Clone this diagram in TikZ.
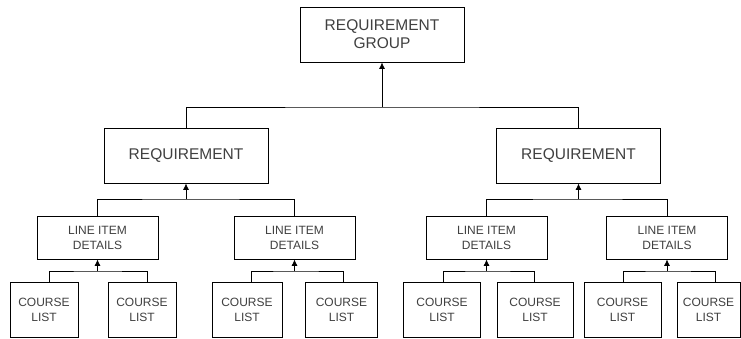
\documentclass[tikz,border=0pt]{standalone}
\usepackage{fontspec}
\setmainfont{Liberation Sans}
\usetikzlibrary{arrows.meta,calc}
\begin{document}
\begin{tikzpicture}[x=1pt,y=-1pt,
  box/.style={draw=black,line width=0.8pt,fill=white,inner sep=0pt,align=center,text=black!75},
  bigbox/.style={box,minimum width=164pt,minimum height=55pt,font=\fontsize{15.5}{18}\selectfont},
  lidbox/.style={box,minimum width=121pt,minimum height=43pt,font=\fontsize{12}{15}\selectfont},
  clbox/.style={box,minimum height=55pt,font=\fontsize{12}{15}\selectfont},
  link/.style={line width=0.8pt,draw=black},
  arr/.style={link,-{Latex[length=6.5pt,width=6pt]}}]
\useasboundingbox (0,0) rectangle (741,339);
% top
\node[bigbox] (grp) at (382,34.5) {REQUIREMENT\\GROUP};
\node[bigbox] (reqL) at (186,155.5) {REQUIREMENT};
\node[bigbox] (reqR) at (578.5,155.5) {REQUIREMENT};
% line item details
\node[lidbox] (lid1) at (97.5,237.5) {LINE ITEM\\DETAILS};
\node[lidbox] (lid2) at (294.5,237.5) {LINE ITEM\\DETAILS};
\node[lidbox] (lid3) at (486.5,237.5) {LINE ITEM\\DETAILS};
\node[lidbox] (lid4) at (667,237.5) {LINE ITEM\\DETAILS};
% course lists
\node[clbox,minimum width=68pt] (cl1) at (44,309.5) {COURSE\\LIST};
\node[clbox,minimum width=68pt] (cl2) at (142,309.5) {COURSE\\LIST};
\node[clbox,minimum width=70pt] (cl3) at (247,309.5) {COURSE\\LIST};
\node[clbox,minimum width=72pt] (cl4) at (341.5,309.5) {COURSE\\LIST};
\node[clbox,minimum width=77pt] (cl5) at (442,309.5) {COURSE\\LIST};
\node[clbox,minimum width=76pt] (cl6) at (535,309.5) {COURSE\\LIST};
\node[clbox,minimum width=77pt] (cl7) at (622.5,309.5) {COURSE\\LIST};
\node[clbox,minimum width=63pt] (cl8) at (708.5,309.5) {COURSE\\LIST};
% junction coordinates
\coordinate (j0) at (382,107);
\coordinate (jL) at (186,199);
\coordinate (jR) at (578.5,199);
\coordinate (j1) at (97.5,271);
\coordinate (j2) at (294.5,271);
\coordinate (j3) at (486.5,271);
\coordinate (j4) at (667,271);
% top level
\draw[link] (reqL.north) |- (j0) -| (reqR.north);
\draw[arr] (j0) -- (grp.south);
% second level
\draw[link] (lid1.north) |- (jL) -| (lid2.north);
\draw[arr] (jL) -- (reqL.south);
\draw[link] (lid3.north) |- (jR) -| (lid4.north);
\draw[arr] (jR) -- (reqR.south);
% third level
\draw[link] ([xshift=5pt]cl1.north) |- (j1) -| ([xshift=5pt]cl2.north);
\draw[arr] (j1) -- (lid1.south);
\draw[link] ([xshift=4pt]cl3.north) |- (j2) -| ([xshift=1.5pt]cl4.north);
\draw[arr] (j2) -- (lid2.south);
\draw[link] ([xshift=1pt]cl5.north) |- (j3) -| ([xshift=-1pt]cl6.north);
\draw[arr] (j3) -- (lid3.south);
\draw[link] ([xshift=0.5pt]cl7.north) |- (j4) -| ([xshift=6.5pt]cl8.north);
\draw[arr] (j4) -- (lid4.south);
\end{tikzpicture}
\end{document}
